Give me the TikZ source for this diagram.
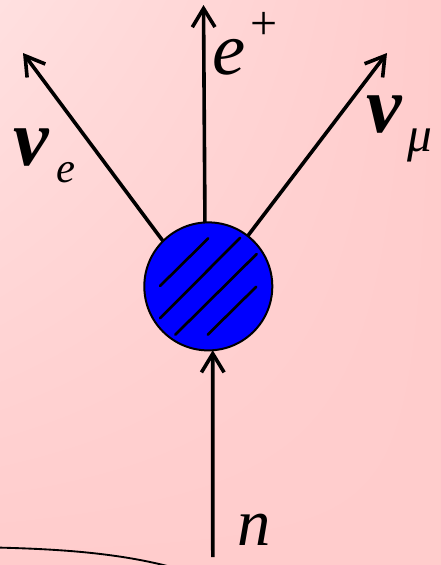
\documentclass[tikz,border=0pt]{standalone}
\usepackage{fontspec}
\setmainfont{Liberation Serif}
\usetikzlibrary{arrows.meta,shadings}
\definecolor{bglight}{RGB}{255,224,224}
\definecolor{bgdark}{RGB}{255,204,204}
\definecolor{ballblue}{RGB}{0,0,255}
\tikzset{
  particle/.style={line width=2.7pt, -{Straight Barb[length=14pt,width=17pt,line width=2.7pt]}},
  hatch/.style={line width=2pt, line cap=round},
  bigsym/.style={inner sep=0pt, anchor=base west, font=\fontsize{56}{60}\selectfont\itshape},
  nusym/.style={inner sep=0pt, anchor=base west, font=\fontsize{60}{64}\selectfont\bfseries\itshape},
  nsym/.style={inner sep=0pt, anchor=base west, font=\fontsize{50}{54}\selectfont\itshape},
  subsym/.style={inner sep=0pt, anchor=base west, font=\fontsize{32}{36}\selectfont\itshape},
  musym/.style={inner sep=0pt, anchor=base west, font=\fontsize{37}{40}\selectfont\itshape},
  supsym/.style={inner sep=0pt, anchor=center, font=\fontsize{36}{40}\selectfont},
}
\begin{document}
\begin{tikzpicture}[x=0.75pt,y=-0.75pt]
\useasboundingbox (0,0) rectangle (441,565);
\shade[upper left=bglight, upper right=bgdark, lower left=bgdark, lower right=bgdark] (0,0) rectangle (441,565);
\begin{scope}
\clip (0,0) rectangle (441,565);
\draw[line width=1.4pt] (-5,547.5) .. controls (60,549) and (120,553) .. (175,568);
\end{scope}
% ball
\node[circle, fill=ballblue, draw=black, line width=1.5pt, minimum size=128*0.75pt, inner sep=0pt, outer sep=0pt] (c) at (208.3,286.4) {};
\draw[hatch] (160,286) -- (208.3,238.3);
\draw[hatch] (160,318.3) -- (240.3,237.7);
\draw[hatch] (175.3,334.7) -- (256.7,254);
\draw[hatch] (207.7,334.7) -- (256.3,286.7);
% endpoints
\coordinate (tl) at (23,53);
\coordinate (tu) at (203.5,5);
\coordinate (tr) at (387,53);
\coordinate (nb) at (212.8,557);
\draw[particle] (c.135) -- (tl);
\draw[particle] (c.93.5) -- (tu);
\draw[particle] (c.52) -- (tr);
\draw[particle] (nb) -- (c.274);
% labels
\node[bigsym] (ep) at (212,74) {e};
\node[supsym] (plus) at (264.5,25.5) {+};
\node[nusym] (nue) at (13,165) {ν};
\node[subsym] (sube) at (56,182) {e};
\node[nusym] (num) at (366,132) {ν};
\node[musym] (submu) at (407,151) {μ};
\node[nsym] (n) at (237,545) {n};
\end{tikzpicture}
\end{document}
